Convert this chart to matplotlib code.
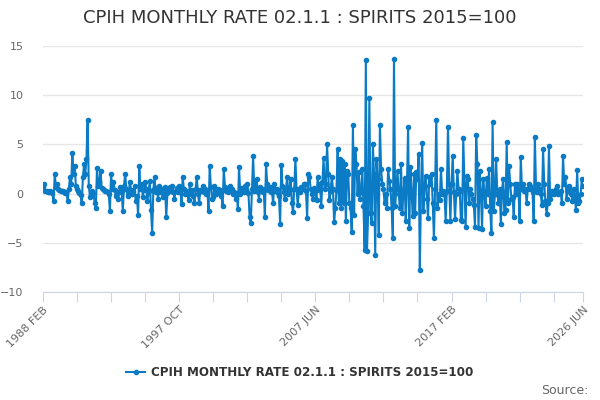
import matplotlib
matplotlib.use("Agg")
import matplotlib.pyplot as plt
import pandas as pd
import numpy as np

title = "CPIH MONTHLY RATE 02.1.1 : SPIRITS 2015=100"
start_month = "1988-02"

# monthly rate (%), Feb 1988 onwards
rate = [
    0.7, 1.0, 0.3, 0.3, 0.2, 0.2, 0.3, 0.2, 0.1, -0.8,
    2.0, 0.7, 1.0, 0.5, 0.4, 0.3, 0.3, 0.3, 0.2, 0.1,
    0.2, -0.8, 0.5, 1.7, 1.0, 4.1, 2.0, 2.8, 0.8, 0.5,
    0.3, 0.1, -0.1, -1.0, 1.7, 3.0, 2.0, 3.5, 7.5, 0.8,
    -0.3, -0.1, 0.3, 0.1, -1.0, -1.5, 2.6, 0.8, 1.2, 2.3,
    0.6, 0.5, 0.4, 0.3, 0.3, 0.2, 0.0, -1.8, 2.0, 0.5,
    1.2, 0.4, -0.2, 0.1, -0.5, 0.2, 0.7, 0.3, -1.8, 0.8,
    2.0, 0.5, -0.2, 0.0, 1.2, 0.4, 0.0, 0.3, 0.8, -0.8,
    -0.2, -2.2, 2.8, 0.5, 1.0, -0.3, 0.4, 1.2, 0.5, -0.8,
    0.3, 1.3, -1.7, -4.0, 0.4, 1.7, 0.2, 0.6, -0.5, 0.8,
    0.2, 0.5, -0.3, 0.3, 0.7, -2.4, 0.1, 0.6, 0.7, 0.3,
    0.8, 0.2, -0.5, 0.3, 0.6, 0.2, 0.8, 0.4, -1.1, 1.7,
    0.5, 0.0, 0.3, 0.2, -0.7, 1.0, 0.0, 0.4, -0.2, -1.0,
    0.5, 1.7, 0.0, -1.0, 0.4, 0.3, 0.8, 0.2, 0.5, 0.0,
    0.3, -1.8, 2.8, 0.7, -0.5, -0.3, 0.8, 0.0, 0.3, 0.5,
    0.2, 0.4, -0.2, -1.3, 2.5, 0.7, 0.3, 0.4, 0.2, 0.8,
    0.3, 0.5, 0.0, 0.2, -0.5, 0.1, -1.6, 2.7, 0.0, 0.6,
    0.5, 0.2, 0.8, 0.3, 1.0, 0.1, -2.4, -3.0, 0.5, 3.8,
    0.3, 0.7, 1.5, 0.2, -0.6, 0.7, 0.4, 0.2, 0.5, -2.4,
    3.0, 1.0, 0.4, 0.7, 0.2, 0.3, -1.0, 1.0, 0.3, 0.5,
    0.1, -0.2, -3.1, 2.9, 0.8, 0.2, -0.5, 0.5, 1.7, 0.0,
    0.4, 1.5, -1.0, -1.9, 0.5, 3.5, 0.5, -1.2, 0.4, 0.2,
    0.7, 0.5, 1.0, 1.0, 0.3, -2.5, 2.0, 1.7, 0.5, 0.0,
    -0.5, 0.6, 0.3, -0.6, 1.7, 0.4, 1.0, -1.3, 1.2, 3.6,
    0.5, 1.0, 5.0, 2.0, -0.7, 0.3, 1.7, 0.5, -2.9, -1.5,
    0.4, 4.5, -1.0, 3.5, -1.5, 3.3, -1.0, 3.0, -2.8, 2.3,
    2.0, -1.0, -1.5, -3.9, 7.0, -2.2, 4.5, 3.0, 0.0, 2.2,
    -0.5, 0.2, 2.5, -1.3, -5.7, 13.6, -5.8, -2.0, 9.7, -2.0,
    -3.0, 5.0, 2.0, -6.2, 3.5, 1.5, -4.2, 7.0, 2.5, 1.0,
    0.5, -1.0, 0.0, -1.5, 2.5, 1.3, 0.5, -1.5, -4.5, 13.7,
    -1.3, 0.5, 2.3, 0.0, -1.5, 3.0, -2.0, 0.0, 1.6, -2.8,
    0.5, 6.8, -3.5, 2.7, 0.0, -2.3, 2.0, -2.0, 2.2, 1.5,
    4.0, -7.8, 0.5, 5.1, -1.8, 0.8, 1.8, -0.5, -2.5, 1.7,
    1.0, 2.0, -1.0, -4.5, 0.5, 7.5, -1.5, 0.0, -0.7, 2.5,
    0.0, 0.3, 0.0, -2.8, 0.3, 6.8, 1.0, -2.8, 1.0, 3.8,
    0.2, -2.6, 0.0, 2.3, 0.5, 0.3, -2.7, -2.8, 5.6, 1.0,
    -3.4, 1.8, 1.5, -1.0, 0.5, 0.0, -0.5, -1.2, -3.4, 6.0,
    3.0, -3.5, 2.3, 0.3, -3.6, 1.5, 0.0, -1.3, 1.6, 0.0,
    2.5, -1.8, -4.0, 7.3, -1.8, 0.0, 3.5, 0.0, -1.0, 0.5,
    -3.1, 0.3, 1.5, -2.0, -1.7, 5.2, -1.0, 2.8, 1.0, -0.5,
    -0.3, -2.4, 1.0, 0.0, 1.0, 0.5, -2.8, 3.7, 0.5, 1.0,
    0.3, 0.5, -1.0, 0.5, 1.0, 0.8, 0.5, 0.2, -2.8, 5.8,
    0.5, 0.2, 1.0, 0.5, 0.0, -1.2, 4.5, 1.0, -0.8, -2.1,
    -1.0, 4.8, -0.5, 0.0, 0.3, 0.0, 0.2, 0.5, 0.8, 0.0,
    0.2, 0.3, -1.0, 3.8, 1.0, 1.7, -0.5, 0.3, 0.8, 0.5,
    0.0, -0.8, 0.5, -0.3, -1.7, 2.4, -1.0, -0.8, 0.0, 1.5,
    0.8,
]

months = pd.period_range(start_month, periods=len(rate), freq="M")
labels = [f"{p.year} {p.strftime('%b').upper()}" for p in months]
x = np.arange(len(rate))

line_col = "#0a7bc4"

fig = plt.figure(figsize=(6, 4), dpi=100)
ax = fig.add_axes([43 / 600, 1 - 292 / 400, 540 / 600, 246 / 400])

ax.plot(x, rate, color=line_col, lw=1.5, marker="o", ms=3.0,
        label=title, zorder=3)

ax.set_xlim(0, len(rate) - 1)
ax.set_ylim(-10, 15)
ax.set_yticks([-10, -5, 0, 5, 10, 15])
ax.grid(axis="y", color="#e6e6e6", lw=1)
ax.set_axisbelow(True)

# ticks every 29 months, a label on every 4th, plus the last month
tick_pos = list(range(0, len(rate), 29)) + [len(rate) - 1]
tick_lab = [labels[p] if (p % 116 == 0 or p == len(rate) - 1) else ""
            for p in tick_pos]
ax.set_xticks(tick_pos)
ax.set_xticklabels(tick_lab, rotation=45, ha="right",
                   rotation_mode="anchor")

for s in ["top", "right", "left"]:
    ax.spines[s].set_visible(False)
ax.spines["bottom"].set_color("#ccd6eb")
ax.tick_params(axis="x", length=7, color="#ccd6eb", labelcolor="#666666",
               labelsize=8, pad=2)
ax.tick_params(axis="y", length=0, labelcolor="#666666", labelsize=8, pad=14)

fig.text(0.5, 1 - 18 / 400, title, ha="center", va="center",
         fontsize=13, color="#333333")

fig.legend(loc="center", bbox_to_anchor=(0.5, 1 - 373 / 400), frameon=False,
           prop={"weight": "bold", "size": 8.6}, labelcolor="#333333",
           handlelength=1.6, handletextpad=0.5)

fig.text(588 / 600, 1 - 390 / 400, "Source:", ha="right", va="center",
         fontsize=9, color="#666666")

fig.savefig("out.png", dpi=100)
